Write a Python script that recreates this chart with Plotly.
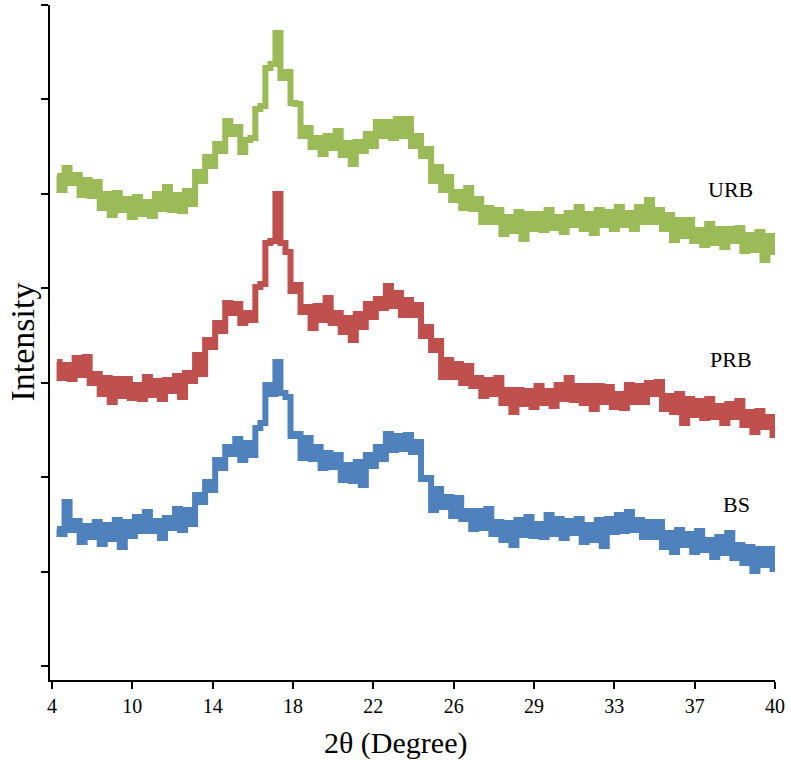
import numpy as np
import plotly.graph_objects as go

# 2-theta scan grid (degrees, real linear scale of the axis)
two_theta = np.round(np.arange(4.25, 40.001, 0.25), 2)

# Intensities (a.u.), one value per grid step
urb = [504, 490, 512, 497, 505, 485, 500, 484, 498, 472, 486, 465, 487, 470, 481, 463,
       483, 466, 478, 464, 486, 471, 493, 470, 485, 469, 489, 476, 508, 499, 523, 514,
       536, 529, 559, 546, 553, 528, 540, 542, 571, 574, 612, 616, 647, 602, 608, 577,
       576, 544, 552, 533, 542, 526, 544, 532, 549, 525, 537, 516, 538, 529, 546, 534,
       558, 544, 558, 542, 561, 544, 561, 534, 544, 524, 531, 499, 513, 490, 503, 480,
       488, 472, 492, 471, 481, 458, 472, 458, 470, 446, 463, 449, 468, 441, 466, 451,
       466, 450, 470, 452, 463, 448, 467, 455, 473, 451, 466, 447, 470, 455, 468, 451,
       473, 455, 467, 451, 473, 458, 480, 458, 470, 451, 465, 440, 460, 444, 460, 439,
       450, 435, 456, 437, 451, 433, 451, 439, 452, 429, 445, 430, 448, 420, 444, 428]

prb = [318, 302, 315, 301, 322, 305, 323, 297, 306, 286, 302, 278, 301, 284, 301, 282,
       295, 281, 303, 285, 299, 281, 300, 289, 304, 283, 307, 299, 325, 306, 340, 333,
       357, 349, 377, 367, 376, 357, 367, 360, 393, 396, 437, 439, 486, 437, 428, 389,
       395, 368, 373, 352, 374, 360, 382, 357, 367, 348, 362, 340, 366, 353, 376, 363,
       381, 372, 394, 374, 387, 365, 380, 365, 375, 344, 353, 330, 339, 303, 320, 303,
       316, 297, 314, 294, 302, 284, 300, 286, 302, 277, 290, 268, 290, 276, 289, 273,
       294, 277, 289, 274, 295, 281, 302, 280, 294, 277, 294, 271, 294, 278, 293, 273,
       286, 272, 295, 278, 294, 278, 297, 286, 298, 271, 284, 268, 286, 257, 281, 265,
       279, 262, 281, 263, 274, 257, 276, 263, 279, 255, 268, 248, 269, 253, 263, 245]

bs = [151, 146, 178, 150, 159, 138, 154, 143, 158, 136, 155, 141, 160, 133, 158, 144,
      163, 149, 168, 149, 159, 142, 162, 152, 171, 150, 170, 156, 185, 178, 198, 190,
      220, 212, 233, 226, 241, 220, 237, 225, 252, 257, 295, 286, 318, 287, 283, 244,
      246, 222, 242, 221, 233, 212, 227, 213, 225, 200, 215, 199, 218, 195, 225, 214,
      233, 221, 246, 230, 244, 231, 245, 228, 238, 201, 202, 170, 191, 173, 183, 164,
      182, 161, 169, 151, 169, 152, 171, 146, 158, 140, 157, 135, 160, 145, 163, 144,
      156, 143, 165, 146, 161, 142, 159, 147, 161, 138, 155, 140, 160, 134, 161, 148,
      165, 149, 168, 150, 160, 143, 158, 143, 158, 133, 147, 128, 150, 135, 146, 128,
      149, 130, 140, 123, 143, 127, 147, 122, 135, 117, 133, 109, 131, 115, 131, 111]

series_names = ["URB", "PRB", "BS"]
series_values = [urb, prb, bs]
series_colors = ["#9BBB59", "#C0504D", "#4F81BD"]

x_tick_vals = [4, 8, 12, 16, 20, 24, 28, 32, 36, 40]
x_tick_text = ["4", "10", "14", "18", "22", "26", "29", "33", "37", "40"]
y_tick_vals = [14, 108.4, 202.9, 297.3, 391.7, 486.1, 580.6, 675]

FONT = "Liberation Serif"

fig = go.Figure()
for name, vals, col in zip(series_names, series_values, series_colors):
    fig.add_trace(go.Scatter(x=two_theta, y=vals, mode="lines", name=name,
                             line=dict(color=col, width=6, shape="hvh")))

# series labels
label_pos = {"URB": (37.76, 491), "PRB": (37.8, 321), "BS": (38.1, 176)}
for name in series_names:
    lx, ly = label_pos[name]
    fig.add_annotation(x=lx, y=ly, text=name, showarrow=False,
                       xanchor="center", yanchor="middle",
                       font=dict(family=FONT, size=22, color="black"))

# axis titles
fig.add_annotation(xref="paper", yref="paper", x=0, y=0.5, xshift=-28,
                   xanchor="center", yanchor="middle",
                   text="Intensity", textangle=-90, showarrow=False,
                   font=dict(family=FONT, size=34, color="black"))
fig.add_annotation(xref="paper", yref="paper", x=0.477, y=0, yshift=-63,
                   xanchor="center", yanchor="middle",
                   text="2θ (Degree)", showarrow=False,
                   font=dict(family=FONT, size=30, color="black"))

fig.update_layout(
    width=791, height=760,
    margin=dict(l=50, r=16, t=5, b=80),
    paper_bgcolor="white", plot_bgcolor="white",
    showlegend=False,
    font=dict(family=FONT, color="black"),
)
fig.update_xaxes(range=[3.9, 40], tickmode="array", tickvals=x_tick_vals, ticktext=x_tick_text,
                 showline=True, linecolor="black", linewidth=2, ticks="outside",
                 ticklen=7, tickwidth=2, tickcolor="black", showgrid=False, zeroline=False,
                 tickfont=dict(family=FONT, size=20, color="black"))
fig.update_yaxes(range=[0, 675], tickmode="array", tickvals=y_tick_vals,
                 showticklabels=False,
                 showline=True, linecolor="black", linewidth=2, ticks="outside",
                 ticklen=7, tickwidth=2, tickcolor="black", showgrid=False, zeroline=False)

fig.write_html("out.html", config={"displayModeBar": False},
               post_script="document.body.style.margin='0';")
